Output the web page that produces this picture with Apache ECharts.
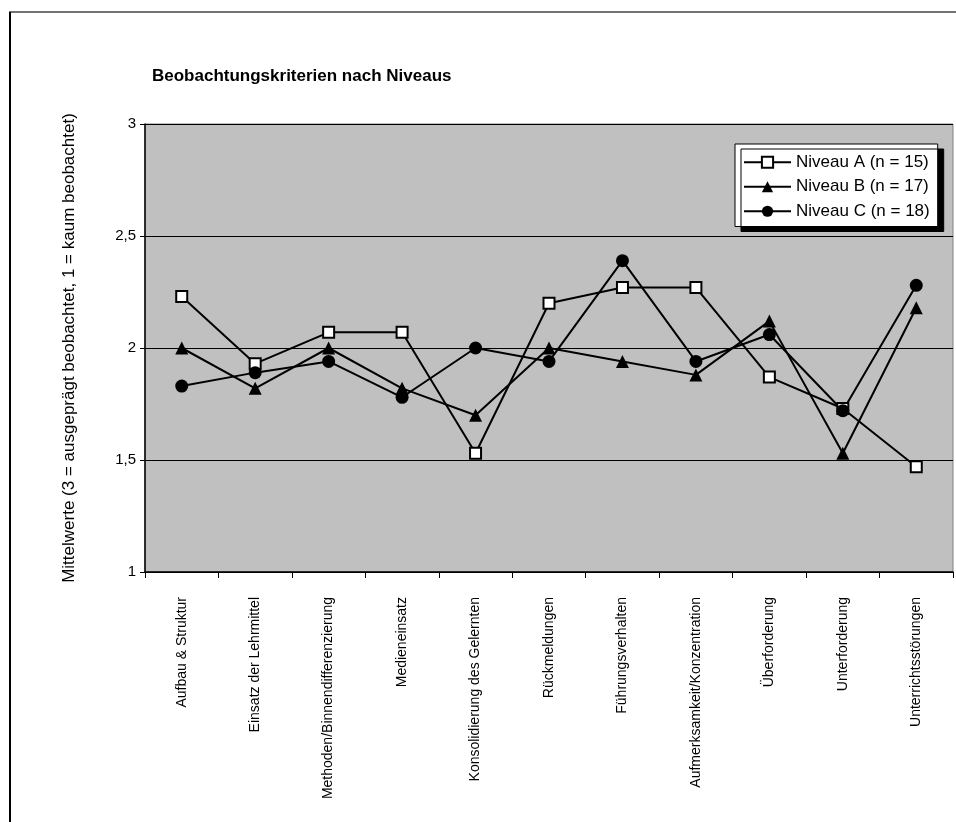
<!DOCTYPE html>
<html>
<head>
<meta charset="utf-8">
<title>Beobachtungskriterien nach Niveaus</title>
<script src="https://cdn.jsdelivr.net/npm/echarts@6/dist/echarts.min.js"></script>
<style>
  html, body { margin: 0; padding: 0; background: #ffffff; }
  #chart { width: 956px; height: 822px; }
</style>
</head>
<body>
<div id="chart"></div>
<script>
// Beobachtungskriterien (Kategorien der x-Achse)
const categories = [
  'Aufbau & Struktur',
  'Einsatz der Lehrmittel',
  'Methoden/Binnendifferenzierung',
  'Medieneinsatz',
  'Konsolidierung des Gelernten',
  'Rückmeldungen',
  'Führungsverhalten',
  'Aufmerksamkeit/Konzentration',
  'Überforderung',
  'Unterforderung',
  'Unterrichtsstörungen'
];

// Mittelwerte je Niveau
const niveauA = [2.23, 1.93, 2.07, 2.07, 1.53, 2.20, 2.27, 2.27, 1.87, 1.73, 1.47];
const niveauB = [2.00, 1.82, 2.00, 1.82, 1.70, 2.00, 1.94, 1.88, 2.12, 1.53, 2.18];
const niveauC = [1.83, 1.89, 1.94, 1.78, 2.00, 1.94, 2.39, 1.94, 2.06, 1.72, 2.28];

const seriesNames = ['Niveau A (n = 15)', 'Niveau B (n = 17)', 'Niveau C (n = 18)'];

// Skala der y-Achse
const yMin = 1;
const yMax = 3;
const yStep = 0.5;

const FONT = '"Liberation Sans", Arial, sans-serif';

const chart = echarts.init(document.getElementById('chart'), null, { renderer: 'canvas' });

function lineSeries(name, data, symbol, size, fill) {
  return {
    name: name,
    type: 'line',
    data: data,
    symbol: symbol,
    symbolSize: size,
    showAllSymbol: true,
    lineStyle: { color: '#000000', width: 2 },
    itemStyle: { color: fill, borderColor: '#000000', borderWidth: symbol === 'rect' ? 2 : 0 },
    emphasis: { disabled: true },
    z: 3
  };
}

chart.setOption({
  animation: false,
  backgroundColor: '#ffffff',
  textStyle: { fontFamily: FONT },
  title: {
    text: 'Beobachtungskriterien nach Niveaus',
    left: 152,
    top: 68,
    padding: 0,
    textStyle: { fontFamily: FONT, fontWeight: 'bold', fontSize: 17, color: '#000000' }
  },
  graphic: [
    { type: 'line', shape: { x1: 9, y1: 12, x2: 956, y2: 12 }, style: { stroke: '#444444', lineWidth: 1.5 }, silent: true },
    { type: 'line', shape: { x1: 10, y1: 12, x2: 10, y2: 822 }, style: { stroke: '#000000', lineWidth: 2 }, silent: true }
  ],
  legend: {
    orient: 'vertical',
    left: 735,
    top: 144,
    padding: [9, 8, 6, 8],
    itemWidth: 47,
    itemHeight: 14,
    itemGap: 6,
    backgroundColor: '#ffffff',
    borderColor: '#000000',
    borderWidth: 1,
    borderRadius: 0,
    shadowColor: '#000000',
    shadowBlur: 0,
    shadowOffsetX: 6,
    shadowOffsetY: 5,
    selectedMode: false,
    textStyle: { fontFamily: FONT, fontSize: 17, lineHeight: 18.5, color: '#000000' },
    data: seriesNames
  },
  grid: {
    left: 145,
    top: 124,
    width: 808,
    height: 448,
    show: true,
    backgroundColor: '#c0c0c0',
    borderColor: '#808080',
    borderWidth: 1,
    containLabel: false,
    outerBoundsMode: 'none'
  },
  xAxis: {
    type: 'category',
    data: categories,
    boundaryGap: true,
    axisLine: { show: true, lineStyle: { color: '#000000', width: 1.5 } },
    axisTick: { show: true, alignWithLabel: false, length: 6, lineStyle: { color: '#000000', width: 1 } },
    axisLabel: {
      interval: 0,
      rotate: 90,
      margin: 25,
      fontFamily: FONT,
      fontSize: 14,
      color: '#000000'
    },
    splitLine: { show: false }
  },
  yAxis: {
    type: 'value',
    min: yMin,
    max: yMax,
    interval: yStep,
    name: 'Mittelwerte (3 = ausgeprägt beobachtet, 1 = kaum beobachtet)',
    nameLocation: 'middle',
    nameRotate: 90,
    nameGap: 67,
    nameTextStyle: { fontFamily: FONT, fontSize: 17, color: '#000000' },
    axisLine: { show: true, lineStyle: { color: '#000000', width: 1.5 } },
    axisTick: { show: true, inside: false, length: 5, lineStyle: { color: '#000000', width: 1 } },
    axisLabel: {
      margin: 9,
      fontFamily: FONT,
      fontSize: 15,
      color: '#000000',
      formatter: function (v) { return String(v).replace('.', ','); }
    },
    splitLine: { show: true, lineStyle: { color: '#000000', width: 1 } }
  },
  series: [
    lineSeries(seriesNames[0], niveauA, 'rect', 11, '#ffffff'),
    lineSeries(seriesNames[1], niveauB, 'triangle', 13, '#000000'),
    lineSeries(seriesNames[2], niveauC, 'circle', 13, '#000000')
  ]
});
</script>
</body>
</html>
